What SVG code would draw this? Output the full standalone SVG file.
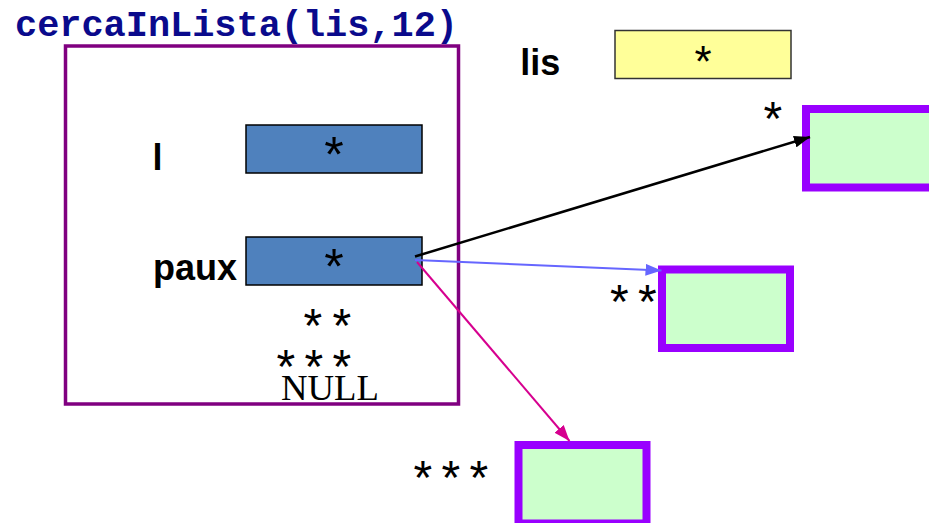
<svg xmlns="http://www.w3.org/2000/svg" width="929" height="523" viewBox="0 0 929 523">
  <style>
    .title { font-family: "Liberation Mono", "Courier New", monospace; font-weight: bold; font-size: 37px; fill: #0a0a8c; }
    .lbl { font-family: "Liberation Sans", Arial, sans-serif; font-weight: bold; font-size: 36px; fill: #000; }
    .star { font-family: "Liberation Sans", Arial, sans-serif; font-size: 48px; fill: #000; }
    .bstar { font-family: "Liberation Sans", Arial, sans-serif; font-size: 50px; fill: #000; text-anchor: middle; }
    .null { font-family: "Liberation Serif", "Times New Roman", serif; font-size: 35px; fill: #000; }
    .frame { fill: none; stroke: #800080; stroke-width: 3.5; }
    .ptr { fill: #4f81bd; stroke: #000; stroke-width: 1.5; }
    .head { fill: #ffff99; stroke: #333; stroke-width: 1.5; }
    .node { fill: #ccffcc; stroke: #9900ff; stroke-width: 8; }
  </style>
  <defs>
    <marker id="ahBlack" viewBox="0 0 16 12" refX="16" refY="6" markerWidth="16" markerHeight="12" markerUnits="userSpaceOnUse" orient="auto">
      <path d="M0,0 L16,6 L0,12 z" fill="#000"/>
    </marker>
    <marker id="ahBlue" viewBox="0 0 16 12" refX="16" refY="6" markerWidth="16" markerHeight="12" markerUnits="userSpaceOnUse" orient="auto">
      <path d="M0,0 L16,6 L0,12 z" fill="#6666ff"/>
    </marker>
    <marker id="ahMagenta" viewBox="0 0 16 12" refX="16" refY="6" markerWidth="16" markerHeight="12" markerUnits="userSpaceOnUse" orient="auto">
      <path d="M0,0 L16,6 L0,12 z" fill="#d6008f"/>
    </marker>
  </defs>

  <!-- call frame of cercaInLista -->
  <g id="frame">
    <text class="title" x="15" y="36" textLength="443" lengthAdjust="spacingAndGlyphs">cercaInLista(lis,12)</text>
    <rect class="frame" x="65.5" y="46" width="393" height="358"/>
  </g>

  <!-- local variable l -->
  <g id="var-l">
    <text class="lbl" x="152.6" y="170">l</text>
    <rect class="ptr" x="246" y="125" width="176" height="48"/>
    <text class="bstar" x="334" y="172">*</text>
  </g>

  <!-- local variable paux -->
  <g id="var-paux">
    <text class="lbl" x="153" y="280">paux</text>
    <rect class="ptr" x="246" y="237" width="176" height="48"/>
    <text class="bstar" x="334" y="284">*</text>
  </g>

  <!-- successive values taken by paux -->
  <g id="paux-values">
    <text class="star" x="303.5" y="342" word-spacing="-3">* *</text>
    <text class="star" x="276.5" y="383" word-spacing="-4">* * *</text>
    <text class="null" x="281" y="400" textLength="98" lengthAdjust="spacingAndGlyphs">NULL</text>
  </g>

  <!-- list head lis -->
  <g id="var-lis">
    <text class="lbl" x="520.3" y="75">lis</text>
    <rect class="head" x="615" y="30.5" width="176" height="48"/>
    <text class="bstar" x="703" y="77" style="font-size:44px">*</text>
  </g>

  <!-- list nodes -->
  <g id="node1">
    <text class="star" x="763.5" y="135">*</text>
    <rect class="node" x="806" y="109" width="140" height="78.5"/>
  </g>
  <g id="node2">
    <text class="star" x="610" y="318" word-spacing="-4">* *</text>
    <rect class="node" x="662" y="269.5" width="128" height="78.5"/>
  </g>
  <g id="node3">
    <text class="star" x="413.5" y="494" word-spacing="-4">* * *</text>
    <rect class="node" x="518.5" y="445" width="128" height="78.5"/>
  </g>

  <!-- connectors -->
  <g id="connectors" fill="none">
    <line x1="415" y1="256.5" x2="810" y2="137" stroke="#000" stroke-width="2.5" marker-end="url(#ahBlack)"/>
    <line x1="415" y1="260" x2="661.5" y2="270.5" stroke="#6666ff" stroke-width="2" marker-end="url(#ahBlue)"/>
    <line x1="417" y1="262" x2="569.5" y2="441" stroke="#d6008f" stroke-width="2" marker-end="url(#ahMagenta)"/>
  </g>
</svg>
